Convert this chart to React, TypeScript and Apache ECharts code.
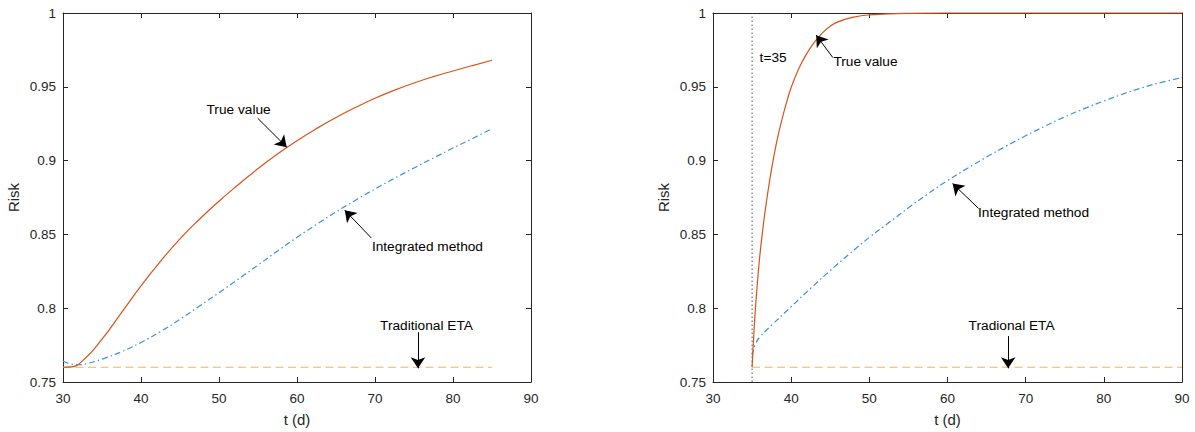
import React, { useEffect, useRef } from "react";
import * as echarts from "echarts";

// ---------- Left panel data ----------
const L_TRUE_T = [30, 31, 32.5, 35, 37.5, 40, 42.5, 45, 47.5, 50, 52.5, 55, 57.5, 60, 62.5, 65, 67.5, 70, 72.5, 75, 77.5, 80, 82.5, 85];
const L_TRUE_V = [0.760, 0.7602, 0.7643, 0.779, 0.797, 0.8152, 0.8318, 0.847, 0.8603, 0.8725, 0.8838, 0.8946, 0.9045, 0.9135, 0.9217, 0.9292, 0.936, 0.9422, 0.9477, 0.9526, 0.9569, 0.9607, 0.9644, 0.968];

const L_INT_T = [30, 31, 32, 33, 35, 37.5, 40, 42.5, 45, 47.5, 50, 52.5, 55, 57.5, 60, 62.5, 65, 67.5, 70, 72.5, 75, 77.5, 80, 82.5, 85];
const L_INT_V = [0.7642, 0.7622, 0.7617, 0.7624, 0.7655, 0.7705, 0.7768, 0.7842, 0.7925, 0.8015, 0.8105, 0.8198, 0.8292, 0.8388, 0.848, 0.8568, 0.8652, 0.8732, 0.8808, 0.888, 0.895, 0.9018, 0.9085, 0.915, 0.9217];

const L_ETA_T = [30, 85];
const L_ETA_V = [0.76, 0.76];

// ---------- Right panel data ----------
const R_TRUE_T = [35, 35.25, 35.5, 35.75, 36, 36.5, 37, 37.5, 38, 38.5, 39, 39.5, 40, 41, 42, 43, 44, 45, 46, 48, 50, 55, 60, 70, 80, 90];
const R_TRUE_V = [0.76, 0.785, 0.805, 0.8215, 0.836, 0.859, 0.878, 0.8945, 0.9088, 0.921, 0.9315, 0.941, 0.9495, 0.9625, 0.9725, 0.9805, 0.9865, 0.991, 0.994, 0.9972, 0.9987, 0.9998, 1, 1, 1, 1];

const R_INT_T = [35, 35.5, 36, 37.5, 40, 42.5, 45, 47.5, 50, 52.5, 55, 57.5, 60, 62.5, 65, 67.5, 70, 72.5, 75, 77.5, 80, 82.5, 85, 87.5, 90];
const R_INT_V = [0.768, 0.7765, 0.7805, 0.7885, 0.801, 0.8135, 0.8255, 0.837, 0.848, 0.858, 0.868, 0.8775, 0.8865, 0.8946, 0.9024, 0.9098, 0.9168, 0.9234, 0.9296, 0.9352, 0.9404, 0.9452, 0.9495, 0.9532, 0.9562];

const R_ETA_T = [35, 90];
const R_ETA_V = [0.76, 0.76];

const R_MARK_T = 35;

// ---------- Axes ----------
const X_MIN = 30, X_MAX = 90, X_STEP = 10;
const Y_MIN = 0.75, Y_MAX = 1, Y_STEP = 0.05;

// ---------- Annotations (data coordinates) ----------
type Annot = { text: string; at: [number, number]; align: "left" | "center"; from?: [number, number]; to?: [number, number] };
const L_ANNOT: Annot[] = [
  { text: "True value", at: [48.4, 0.9348], align: "left", from: [54.96, 0.9287], to: [58.68, 0.9091] },
  { text: "Integrated method", at: [69.6, 0.8417], align: "left", from: [69.54, 0.8475], to: [66.12, 0.8664] },
  { text: "Traditional ETA", at: [76.6, 0.788], align: "center", from: [75.51, 0.7838], to: [75.51, 0.7593] },
];
const R_ANNOT: Annot[] = [
  { text: "t=35", at: [35.96, 0.9698], align: "left" },
  { text: "True value", at: [45.4, 0.967], align: "left", from: [45.33, 0.9698], to: [43.2, 0.985] },
  { text: "Integrated method", at: [63.9, 0.8649], align: "left", from: [63.97, 0.8676], to: [60.65, 0.8845] },
  { text: "Tradional ETA", at: [68.2, 0.788], align: "center", from: [67.76, 0.7811], to: [67.76, 0.7593] },
];

const FONT = "'Liberation Sans', Arial, Helvetica, sans-serif";
const AX = "#262626";
const C_TRUE = "#D95319";
const C_INT = "#3a93d9";
const C_ETA = "#EDB95A";

const zip = (t: number[], v: number[]) => t.map((x, i) => [x, v[i]]);

function xAxes(gridIndex: number) {
  const base = {
    type: "value" as const,
    gridIndex,
    min: X_MIN,
    max: X_MAX,
    interval: X_STEP,
    axisLine: { show: true, onZero: false, lineStyle: { color: AX, width: 1 } },
    axisTick: { show: true, inside: true, length: 5, lineStyle: { color: AX } },
    splitLine: { show: false },
  };
  return [
    {
      ...base,
      position: "bottom",
      name: "t (d)",
      nameLocation: "middle",
      nameGap: 30,
      nameTextStyle: { color: AX, fontSize: 15, fontFamily: FONT },
      axisLabel: { color: AX, fontSize: 13.5, fontFamily: FONT, margin: 9 },
    },
    { ...base, position: "top", axisLabel: { show: false } },
  ];
}

function yAxes(gridIndex: number) {
  const base = {
    type: "value" as const,
    gridIndex,
    min: Y_MIN,
    max: Y_MAX,
    interval: Y_STEP,
    axisLine: { show: true, onZero: false, lineStyle: { color: AX, width: 1 } },
    axisTick: { show: true, inside: true, length: 5, lineStyle: { color: AX } },
    splitLine: { show: false },
  };
  return [
    {
      ...base,
      position: "left",
      name: "Risk",
      nameLocation: "middle",
      nameGap: 42,
      nameRotate: 90,
      nameTextStyle: { color: AX, fontSize: 15, fontFamily: FONT },
      axisLabel: { color: AX, fontSize: 13.5, fontFamily: FONT, margin: 7 },
    },
    { ...base, position: "right", axisLabel: { show: false } },
  ];
}

function lineSeries(xi: number, yi: number, data: number[][], color: string, type: any, smooth = true) {
  return {
    type: "line",
    xAxisIndex: xi,
    yAxisIndex: yi,
    data,
    showSymbol: false,
    symbol: "none",
    smooth: smooth ? 0.5 : false,
    clip: false,
    lineStyle: { color, width: 1.2, type },
    silent: true,
    z: 3,
  };
}

function arrowSeries(xi: number, yi: number, ann: Annot[]) {
  return {
    type: "line",
    xAxisIndex: xi,
    yAxisIndex: yi,
    data: [],
    silent: true,
    markLine: {
      silent: true,
      animation: false,
      symbol: ["none", "arrow"],
      symbolSize: 11,
      label: { show: false },
      lineStyle: { color: "#000", width: 1, type: "solid" },
      data: ann
        .filter((a) => a.from && a.to)
        .map((a) => [{ coord: a.from }, { coord: a.to }]),
    },
  };
}

export default function App() {
  const ref = useRef<HTMLDivElement>(null);
  useEffect(() => {
    const chart = echarts.init(ref.current!, null, { renderer: "svg" });
    chart.setOption({
      animation: false,
      backgroundColor: "#ffffff",
      grid: [
        { left: 63, top: 13, width: 468, height: 369 },
        { left: 713, top: 13, width: 469, height: 369 },
      ],
      xAxis: [...xAxes(0), ...xAxes(1)],
      yAxis: [...yAxes(0), ...yAxes(1)],
      series: [
        lineSeries(0, 0, zip(L_ETA_T, L_ETA_V), C_ETA, [8, 4.5], false),
        lineSeries(0, 0, zip(L_INT_T, L_INT_V), C_INT, [6, 3, 1.5, 3]),
        lineSeries(0, 0, zip(L_TRUE_T, L_TRUE_V), C_TRUE, "solid"),
        arrowSeries(0, 0, L_ANNOT),
        {
          ...lineSeries(2, 2, [[R_MARK_T, Y_MIN], [R_MARK_T, Y_MAX]], "#555555", [1.5, 2.5], false),
          lineStyle: { color: "#555555", width: 1, type: [1.5, 2.5] },
        },
        lineSeries(2, 2, zip(R_ETA_T, R_ETA_V), C_ETA, [8, 4.5], false),
        lineSeries(2, 2, zip(R_INT_T, R_INT_V), C_INT, [6, 3, 1.5, 3]),
        lineSeries(2, 2, zip(R_TRUE_T, R_TRUE_V), C_TRUE, "solid"),
        arrowSeries(2, 2, R_ANNOT),
      ],
    });

    const texts: any[] = [];
    const addTexts = (ann: Annot[], idx: number) => {
      ann.forEach((a) => {
        const p = chart.convertToPixel({ xAxisIndex: idx, yAxisIndex: idx }, a.at) as number[];
        texts.push({
          type: "text",
          x: p[0],
          y: p[1],
          silent: true,
          z: 10,
          style: {
            text: a.text,
            fill: "#000",
            fontSize: 13.7,
            fontFamily: FONT,
            textAlign: a.align,
            textVerticalAlign: "middle",
            align: a.align,
            verticalAlign: "middle",
          },
        });
      });
    };
    addTexts(L_ANNOT, 0);
    addTexts(R_ANNOT, 2);
    chart.setOption({ graphic: texts });

    return () => chart.dispose();
  }, []);
  return <div ref={ref} style={{ position: "absolute", left: 0, top: 0, width: 1195, height: 432 }} />;
}
